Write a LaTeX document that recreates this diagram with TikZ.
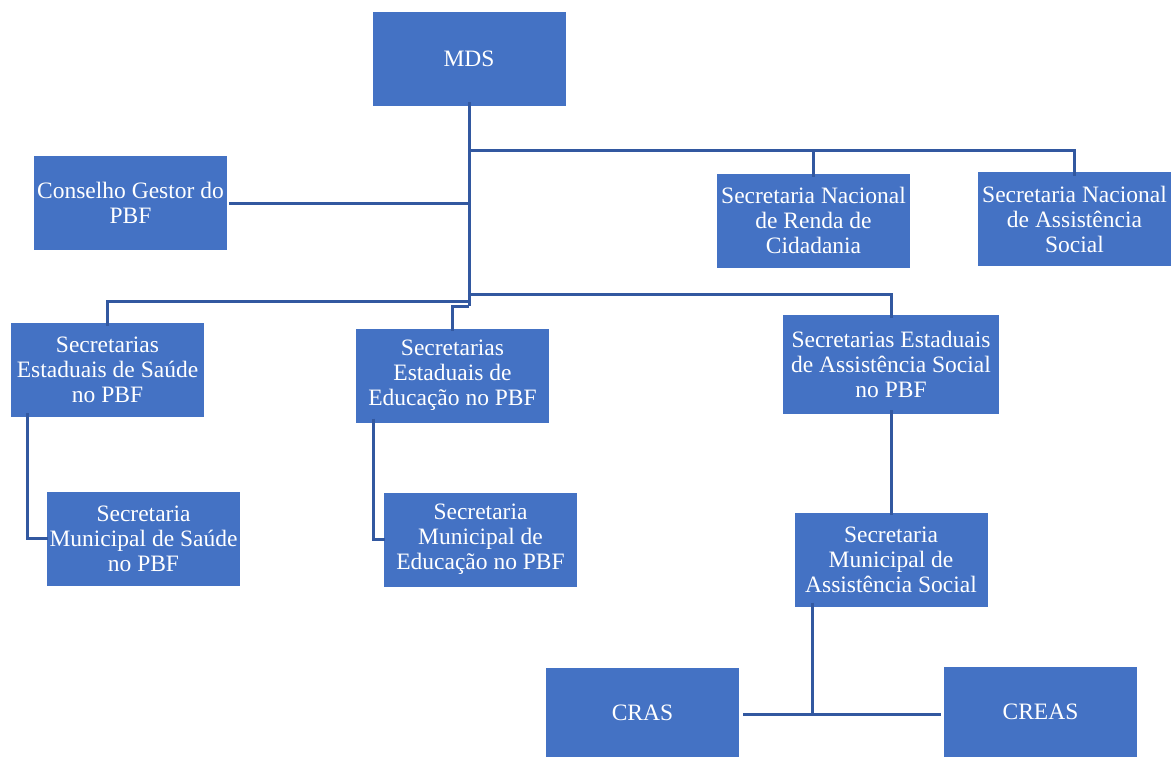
\documentclass[tikz,border=0pt]{standalone}
\usepackage{fontspec}
\setmainfont{Liberation Serif}
\usetikzlibrary{calc}
\definecolor{boxblue}{HTML}{4472C4}
\definecolor{lineblue}{HTML}{3258A0}
\begin{document}
\begin{tikzpicture}[x=1pt,y=-1pt,
  box/.style={fill=boxblue, draw=none, text=white, align=center, inner sep=0pt,
    minimum width=193pt, minimum height=94pt, font=\fontsize{23.5}{25}\selectfont},
  link/.style={draw=lineblue, line width=3pt}]
\useasboundingbox (0,0) rectangle (1174,758);
\fill[white] (0,0) rectangle (1174,758);
\coordinate (tb) at (469,306);
\coordinate (t150) at (469,150);
\coordinate (t294) at (469,294);
\coordinate (t301) at (469,301);
\coordinate (t203) at (469,203);
\node[box] (mds) at (469,59) {MDS};
\node[box] (cons) at (130.5,203) {Conselho Gestor do\\PBF};
\node[box] (snrc) at (813.5,220.5) {Secretaria Nacional\\de Renda de\\Cidadania};
\node[box] (snas) at (1074.5,219) {Secretaria Nacional\\de Assistência\\Social};
\node[box] (ess) at (107.5,370) {Secretarias\\Estaduais de Saúde\\no PBF};
\node[box] (ese) at (452.5,375.5) {Secretarias\\Estaduais de\\Educação no PBF};
\node[box, minimum width=216pt, minimum height=99pt] (esa) at (891,364.5) {Secretarias Estaduais\\de Assistência Social\\no PBF};
\node[box] (mss) at (143.5,538.5) {Secretaria\\Municipal de Saúde\\no PBF};
\node[box] (mse) at (480.5,539.5) {Secretaria\\Municipal de\\Educação no PBF};
\node[box] (msa) at (891,559.5) {Secretaria\\Municipal de\\Assistência Social};
\node[box, minimum height=89pt] (cras) at (642.5,712.5) {CRAS};
\node[box, minimum height=90pt] (creas) at (1040.5,712) {CREAS};
% links
\path[link] ([yshift=4pt]mds.south) -- (tb);
\path[link] (t150) -| ([yshift=-4pt]snrc.north);
\path[link] (t150) -| ([yshift=-4pt]snas.north);
\path[link] ([xshift=2pt]cons.east) -- (t203);
\path[link] (t294) -| ([yshift=-3pt]esa.north);
\path[link] (t301) -| ([yshift=-3pt]ess.north);
\path[link] (tb) -| ([yshift=-3pt]ese.north);
\path[link] ([xshift=17pt,yshift=4pt]ess.south west) |- ([xshift=1pt]mss.west);
\path[link] ([xshift=18pt,yshift=4pt]ese.south west) |- ([xshift=1pt]mse.west);
\path[link] ([yshift=4pt]esa.south) -- ([yshift=-3pt]msa.north);
\coordinate (cj) at ($(msa.south west)+(18,108)$);
\path[link] ([xshift=18pt,yshift=4pt]msa.south west) -- (cj);
\path[link] ([xshift=4pt]cras.east |- cj) -- ([xshift=-3pt]creas.west |- cj);
\end{tikzpicture}
\end{document}
